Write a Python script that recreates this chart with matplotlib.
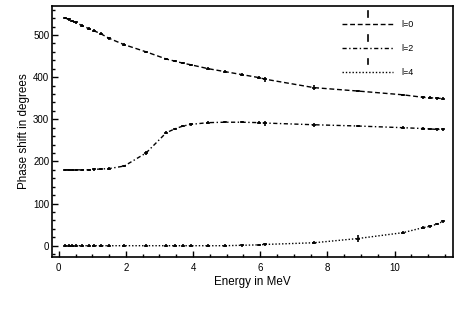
import matplotlib
matplotlib.use("Agg")
import matplotlib.pyplot as plt
from matplotlib.lines import Line2D
from matplotlib.legend_handler import HandlerLine2D
from matplotlib.ticker import MultipleLocator

plt.rcParams["font.family"] = ["Liberation Sans", "DejaVu Sans"]

# Energies (MeV) shared by all three partial waves
energy = [0.2, 0.3, 0.4, 0.5, 0.7, 0.9, 1.05, 1.25, 1.5, 1.95, 2.6, 3.2, 3.45,
          3.7, 3.95, 4.45, 4.95, 5.45, 5.95, 6.15, 7.6, 8.9, 10.25, 10.85,
          11.05, 11.25, 11.45]

phase_l0 = [540, 537, 533, 530, 522, 515, 510, 503, 492, 477, 460, 443, 438,
            433, 429, 420, 413, 406, 399, 395, 375, 367, 358, 352, 351, 350, 349]
phase_l2 = [180, 180, 180, 180, 180, 180, 181, 182, 183, 189, 220, 268, 277,
            284, 288, 292, 293, 293, 292, 291, 287, 284, 280, 278, 277, 276, 276]
phase_l4 = [0, 0, 0, 0, 0, 0, 0, 0, 0, 0, 0, 0, 0,
            0, 0, 0, 0, 1, 2, 3, 7, 17, 31, 43, 46, 51, 58]

err_l0 = [3, 3, 3, 3, 3, 3, 3, 3, 3, 3, 3, 3, 3,
          3, 3, 3, 3, 3, 4, 6, 6, 3, 3, 4, 4, 4, 4]
err_l2 = [3, 3, 3, 3, 3, 3, 3, 3, 3, 3, 4, 4, 3,
          3, 3, 3, 3, 3, 4, 6, 5, 3, 3, 3, 3, 3, 4]
err_l4 = [3, 3, 3, 3, 3, 3, 3, 3, 3, 3, 3, 3, 3,
          3, 3, 3, 3, 3, 3, 3, 4, 8, 4, 4, 4, 3, 4]
e_err = 0.06

series = [
    ("l=0", phase_l0, err_l0, (0, (3.5, 2))),
    ("l=2", phase_l2, err_l2, (0, (3, 1.8, 1, 1.8))),
    ("l=4", phase_l4, err_l4, (0, (1, 1.4))),
]


class HandlerBarLine(HandlerLine2D):
    """Line sample with a small vertical bar drawn above it."""

    def create_artists(self, legend, orig_handle, xdescent, ydescent,
                       width, height, fontsize, trans):
        artists = super().create_artists(legend, orig_handle, xdescent, ydescent,
                                         width, height, fontsize, trans)
        xc = -xdescent + width / 2
        yc = (height - ydescent) / 2
        bar = Line2D([xc, xc], [yc + 5.5, yc + 9.5], color="black", lw=1.2,
                     transform=trans)
        return list(artists) + [bar]


fig = plt.figure(figsize=(4.63, 3.10), dpi=100)
ax = fig.add_axes([0.113, 0.170, 0.865, 0.811])

handles = []
for label, vals, errs, ls in series:
    ax.errorbar(energy, vals, yerr=errs, xerr=e_err, fmt="none",
                ecolor="black", elinewidth=1.2, capsize=0)
    line, = ax.plot(energy, vals, color="black", lw=1.0, linestyle=ls, label=label)
    handles.append(line)

ax.set_xlim(-0.19, 11.73)
ax.set_ylim(-27.5, 569)
ax.xaxis.set_major_locator(MultipleLocator(2))
ax.xaxis.set_minor_locator(MultipleLocator(0.5))
ax.yaxis.set_major_locator(MultipleLocator(100))
ax.yaxis.set_minor_locator(MultipleLocator(20))
ax.tick_params(which="both", direction="in", width=1.0, labelsize=7)
ax.tick_params(which="major", length=4.5)
ax.tick_params(which="minor", length=2.5)
ax.tick_params(axis="x", pad=4.0)
ax.tick_params(axis="y", pad=2.2)
for sp in ax.spines.values():
    sp.set_linewidth(1.2)

ax.set_xlabel("Energy in MeV", fontsize=8.4, labelpad=2.5)
ax.set_ylabel("Phase shift in degrees", fontsize=8.4, labelpad=2)

ax.legend(handles=handles, handler_map={Line2D: HandlerBarLine()},
          loc="upper left", bbox_to_anchor=(0.723, 0.942), frameon=False,
          fontsize=6.5, handlelength=5.7, handletextpad=0.85, labelspacing=1.65,
          borderpad=0, borderaxespad=0)

fig.savefig("out.png", dpi=100)
